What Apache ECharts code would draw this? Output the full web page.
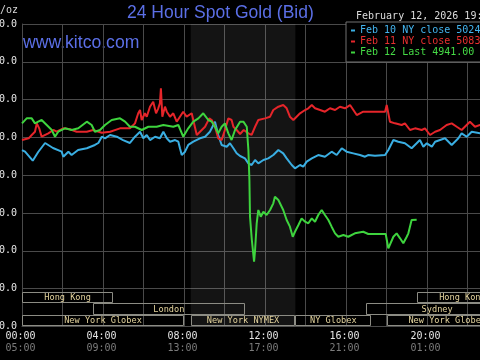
<!DOCTYPE html>
<html>
<head>
<meta charset="utf-8">
<script src="https://cdn.jsdelivr.net/npm/echarts@6/dist/echarts.min.js"></script>
<style>html,body{margin:0;padding:0;background:#000;}#c{width:480px;height:360px;}</style>
</head>
<body>
<div id="c"></div>
<script>
// ---- data (hours in New York time, prices in US$/oz) ----
const legendNames = ['Feb 10 NY close 5024.40', 'Feb 11 NY close 5083.30', 'Feb 12 Last 4941.00'];

const hoursFeb10 = [0,0.15,0.53,0.80,1.14,1.53,1.96,2.04,2.29,2.45,
  2.77,3.20,3.60,3.77,3.94,4.10,4.35,4.68,4.99,5.33,
  5.58,5.83,5.99,6.16,6.32,6.57,6.81,6.98,7.15,7.31,
  7.56,7.72,7.80,7.89,8.05,8.21,8.46,8.79,9.04,9.28,
  9.45,9.53,9.69,9.86,10.11,10.27,10.44,10.60,10.77,11.01,
  11.18,11.34,11.51,11.67,11.92,12.16,12.41,12.66,12.74,12.90,
  13.07,13.32,13.48,13.73,13.89,14.06,14.31,14.63,14.96,15.29,
  15.54,15.79,16.03,16.36,16.69,16.94,17.09,17.43,17.93,18.09,
  18.34,18.58,18.91,19.24,19.49,19.65,19.82,19.99,20.24,20.40,
  20.89,21.22,21.55,21.71,21.96,22.21,22.62,23.20,24];
const pricesFeb10 = [5033.3,5031.1,5019.2,5030.7,5042.6,5036.0,5031.1,5024.5,5031.1,5026.7,
  5033.3,5035.6,5040.0,5042.6,5050.9,5048.8,5053.2,5050.9,5046.5,5042.6,
  5050.9,5057.5,5048.8,5053.2,5046.5,5050.9,5048.8,5057.5,5048.8,5044.3,
  5046.5,5044.3,5035.6,5026.7,5031.1,5040.0,5044.3,5048.8,5050.9,5057.5,
  5066.4,5070.8,5053.2,5040.0,5037.7,5042.2,5035.6,5029.0,5025.4,5022.3,
  5015.7,5013.5,5020.1,5015.7,5020.1,5022.3,5026.7,5033.3,5035.6,5028.9,
  5022.3,5013.5,5009.1,5013.5,5011.3,5017.9,5022.3,5026.7,5024.5,5031.1,
  5026.7,5035.6,5031.1,5028.9,5026.7,5024.5,5026.7,5025.8,5026.7,5033.3,
  5046.5,5044.3,5042.2,5035.6,5042.2,5046.5,5037.7,5042.2,5037.7,5044.3,
  5048.8,5039.9,5048.8,5055.4,5050.9,5057.5,5055.4,5052.0,5048.0];

const hoursFeb11 = [0,0.33,0.48,0.64,0.73,0.85,0.97,1.30,1.55,1.71,
  2.04,2.37,2.70,3.20,3.51,3.94,4.35,4.84,5.33,5.58,
  5.74,5.83,5.91,6.07,6.16,6.32,6.48,6.62,6.73,6.81,
  6.86,6.93,7.06,7.15,7.31,7.47,7.64,7.80,7.96,8.13,
  8.38,8.46,8.63,8.79,9.04,9.25,9.37,9.53,9.69,9.86,
  10.02,10.19,10.35,10.44,10.60,10.77,10.95,11.18,11.34,11.51,
  11.67,12.00,12.25,12.41,12.66,12.90,13.07,13.23,13.40,13.56,
  13.73,13.98,14.14,14.31,14.47,14.72,14.96,15.21,15.46,15.70,
  15.95,16.20,16.53,16.69,16.85,17.19,17.93,18.01,18.17,18.42,
  18.75,18.91,19.16,19.41,19.74,19.90,20.15,20.40,20.64,20.97,
  21.22,21.47,21.71,22.12,22.37,22.62,23.30,24];
const pricesFeb11 = [5046.5,5048.8,5053.2,5057.5,5068.6,5062.0,5050.9,5055.4,5059.8,5057.5,
  5062.0,5060.7,5057.5,5057.5,5059.8,5056.2,5057.5,5062.0,5062.0,5068.6,
  5081.9,5086.2,5073.0,5081.9,5077.4,5090.6,5097.2,5081.9,5088.5,5095.1,
  5114.9,5077.4,5090.6,5084.0,5077.4,5081.9,5070.8,5077.4,5084.0,5077.4,
  5081.9,5084.0,5053.2,5057.5,5064.1,5075.2,5073.0,5064.1,5048.8,5046.5,
  5059.8,5075.2,5073.0,5064.1,5059.8,5054.5,5059.8,5055.4,5053.2,5064.1,
  5073.0,5075.2,5077.4,5086.2,5090.6,5092.8,5088.5,5077.4,5073.0,5077.4,
  5081.9,5086.2,5088.5,5092.8,5088.5,5086.2,5084.0,5088.5,5086.2,5090.6,
  5088.5,5092.8,5079.6,5081.9,5084.0,5084.0,5084.0,5092.8,5070.8,5068.6,
  5066.4,5068.6,5059.8,5062.0,5059.8,5062.0,5053.2,5057.5,5059.8,5066.4,
  5068.6,5064.1,5059.8,5070.8,5064.1,5066.4,5070.0,5068.6];

const hoursFeb12 = [0,0.23,0.48,0.64,0.80,0.97,1.22,1.47,1.63,1.79,
  2.12,2.45,2.78,3.20,3.44,3.60,3.85,4.10,4.43,4.84,
  4.92,5.09,5.33,5.58,5.91,6.24,6.65,6.98,7.47,7.72,
  7.96,8.21,8.46,8.71,8.95,9.20,9.37,9.53,9.69,9.86,
  10.02,10.19,10.35,10.52,10.77,10.93,11.01,11.10,11.18,11.23,
  11.26,11.35,11.46,11.51,11.59,11.67,11.79,11.92,12.08,12.25,
  12.41,12.49,12.66,12.74,12.90,13.07,13.23,13.37,13.48,13.65,
  13.81,13.98,14.14,14.31,14.47,14.63,14.80,14.96,15.13,15.29,
  15.46,15.62,15.87,16.11,16.44,16.85,17.10,17.96,18.09,18.34,
  18.50,18.67,18.83,19.00,19.08,19.24,19.49];
const pricesFeb12 = [5068.6,5075.2,5075.2,5068.6,5070.8,5073.0,5066.4,5059.8,5050.9,5057.5,
  5062.0,5059.8,5062.0,5070.8,5066.4,5057.5,5059.8,5066.4,5073.0,5075.2,
  5077.4,5070.8,5064.1,5064.1,5059.8,5064.1,5064.1,5066.4,5064.1,5066.4,
  5050.9,5062.0,5070.8,5075.2,5081.9,5073.0,5070.8,5064.1,5055.4,5064.1,
  5068.6,5055.4,5046.5,5059.8,5070.8,5070.8,5073.0,5064.1,5033.3,4993.6,
  4945.1,4914.3,4885.6,4901.0,4936.4,4954.0,4945.1,4951.7,4947.3,4954.0,
  4962.8,4971.6,4967.2,4969.4,4954.0,4940.7,4931.9,4918.6,4925.2,4934.1,
  4942.9,4938.5,4936.4,4942.9,4938.5,4947.3,4954.0,4947.3,4940.7,4931.9,
  4923.1,4918.6,4920.9,4918.6,4923.1,4925.2,4922.2,4922.2,4903.3,4918.6,
  4923.1,4916.5,4909.9,4918.6,4923.1,4940.7,4941.0];

// tick labels (every 4 hours): New York time and GMT
const nyTickLabels  = ['00:00','04:00','08:00','12:00','16:00','20:00','24:00'];
const gmtTickLabels = ['05:00','09:00','13:00','17:00','21:00','01:00','05:00'];

// trading sessions: name, start hour, end hour, row (0 = bottom)
const sessionNames = ['Hong Kong','London','New York Globex','New York NYMEX','NY Globex','Sydney','Hong Kong','New York Globex'];
const sessionStart = [0, 3.5, 0, 8.333, 13.5, 17, 19.5, 18];
const sessionEnd   = [4.5, 11, 8, 13.5, 17.25, 24, 24, 24];
const sessionRow   = [2, 1, 0, 0, 0, 1, 2, 0];
const nymexIndex = 3;

// ---- chart ----
const MONO = '"DejaVu Sans Mono", "Liberation Mono", monospace';
const SANS = '"Liberation Sans", Arial, sans-serif';
const lineColors = ['#3aaee2', '#e6252a', '#3ed43e'];
const legendColors = ['#44b4ee', '#e8302f', '#46dc46'];
const gridColor = '#4a4a4a';

function pairs(h, v) { return h.map((x, i) => [x, v[i]]); }

const chart = echarts.init(document.getElementById('c'), null, {renderer: 'canvas'});

const option = {
  backgroundColor: '#000',
  animation: false,
  title: {
    text: '24 Hour Spot Gold (Bid)',
    left: 127, top: 4, padding: 0,
    textStyle: {color: '#5b6fe6', fontSize: 17.5, fontWeight: 'normal', fontFamily: SANS}
  },
  legend: {
    left: 346, top: 22, orient: 'vertical',
    icon: 'rect', itemWidth: 4, itemHeight: 2, itemGap: 0,
    padding: [3, 8, 4, 5],
    backgroundColor: '#000', borderColor: '#707070', borderWidth: 1,
    textStyle: {fontFamily: MONO, fontSize: 10, lineHeight: 11},
    data: legendNames.map((n, i) => ({name: n, textStyle: {color: legendColors[i]}})),
    selectedMode: false
  },
  graphic: [
    {type: 'text', x: 18, y: 10, style: {text: '$/oz', align: 'right', verticalAlign: 'middle', fill: '#d8d8d8', font: '10px ' + MONO}},
    {type: 'text', x: 23, y: 43, style: {text: 'www.kitco.com', align: 'left', verticalAlign: 'middle', fill: '#5b6fe6', font: '17.6px ' + SANS}},
    {type: 'text', x: 356, y: 16, style: {text: 'February 12, 2026 19:25', align: 'left', verticalAlign: 'middle', fill: '#dcdcdc', font: '10px ' + MONO}}
  ],
  grid: {left: 22, top: 24, width: 486, height: 302.4, containLabel: false, outerBoundsMode: 'none'},
  xAxis: {
    type: 'value', min: 0, max: 24, interval: 2,
    axisLine: {show: true, lineStyle: {color: gridColor}},
    axisTick: {show: false},
    splitLine: {show: true, lineStyle: {color: gridColor, width: 1}},
    axisLabel: {
      margin: 4, showMinLabel: true, showMaxLabel: true,
      formatter: function (v) {
        if (v % 4 !== 0) return '';
        const i = v / 4;
        return '{a|' + nyTickLabels[i] + '}\n{b|' + gmtTickLabels[i] + '}';
      },
      rich: {
        a: {color: '#e6e6e6', fontFamily: MONO, fontSize: 10, lineHeight: 12, padding: [0, 3, 0, 0]},
        b: {color: '#7c7c7c', fontFamily: MONO, fontSize: 10, lineHeight: 12, padding: [0, 3, 0, 0]}
      }
    }
  },
  yAxis: [
    {
      type: 'value', min: 4800, max: 5200, interval: 50,
      axisLine: {show: true, lineStyle: {color: gridColor}},
      axisTick: {show: false},
      splitLine: {show: true, lineStyle: {color: gridColor, width: 1}},
      axisLabel: {
        margin: 5, showMinLabel: true, showMaxLabel: true,
        color: '#e6e6e6', fontFamily: MONO, fontSize: 10,
        formatter: v => v.toFixed(1)
      }
    },
    {type: 'value', min: 0, max: 26, show: false}
  ],
  series: [
    {
      name: legendNames[0], type: 'line', showSymbol: false, symbol: 'none',
      data: pairs(hoursFeb10, pricesFeb10),
      lineStyle: {color: lineColors[0], width: 2}, itemStyle: {color: lineColors[0]},
      z: 3,
      markArea: {
        silent: true,
        itemStyle: {color: 'rgba(255,255,255,0.08)'},
        data: [[{xAxis: sessionStart[nymexIndex]}, {xAxis: sessionEnd[nymexIndex]}]]
      }
    },
    {
      name: legendNames[1], type: 'line', showSymbol: false, symbol: 'none',
      data: pairs(hoursFeb11, pricesFeb11),
      lineStyle: {color: lineColors[1], width: 2}, itemStyle: {color: lineColors[1]},
      z: 4
    },
    {
      name: legendNames[2], type: 'line', showSymbol: false, symbol: 'none',
      data: pairs(hoursFeb12, pricesFeb12),
      lineStyle: {color: lineColors[2], width: 2}, itemStyle: {color: lineColors[2]},
      z: 5
    },
    {
      type: 'custom', xAxisIndex: 0, yAxisIndex: 1, silent: true, clip: true, z: 6,
      encode: {x: [0, 1], y: 2},
      data: sessionStart.map((s, i) => [s, sessionEnd[i], sessionRow[i]]),
      renderItem: function (params, api) {
        const i = params.dataIndex;
        const s = api.value(0), e = api.value(1), r = api.value(2);
        const p0 = api.coord([s, r + 1]);
        const p1 = api.coord([e, r]);
        const mid = api.coord([(Math.max(s, 0) + Math.min(e, 24)) / 2, r + 0.5]);
        const x0 = Math.round(p0[0]) + 0.5, y0 = Math.round(p0[1]) + 0.5;
        const x1 = Math.round(p1[0]) - 0.5, y1 = Math.round(p1[1]) - 0.5;
        return {
          type: 'group',
          children: [
            {type: 'rect', shape: {x: x0, y: y0, width: x1 - x0, height: y1 - y0},
             style: {fill: 'none', stroke: '#8c8c84', lineWidth: 1}},
            {type: 'text', style: {text: sessionNames[i], x: mid[0], y: mid[1] + 0.5,
             align: 'center', verticalAlign: 'middle', fill: '#e2d29c', font: '8.6px ' + MONO}}
          ]
        };
      }
    }
  ]
};
chart.setOption(option);
</script>
</body>
</html>
